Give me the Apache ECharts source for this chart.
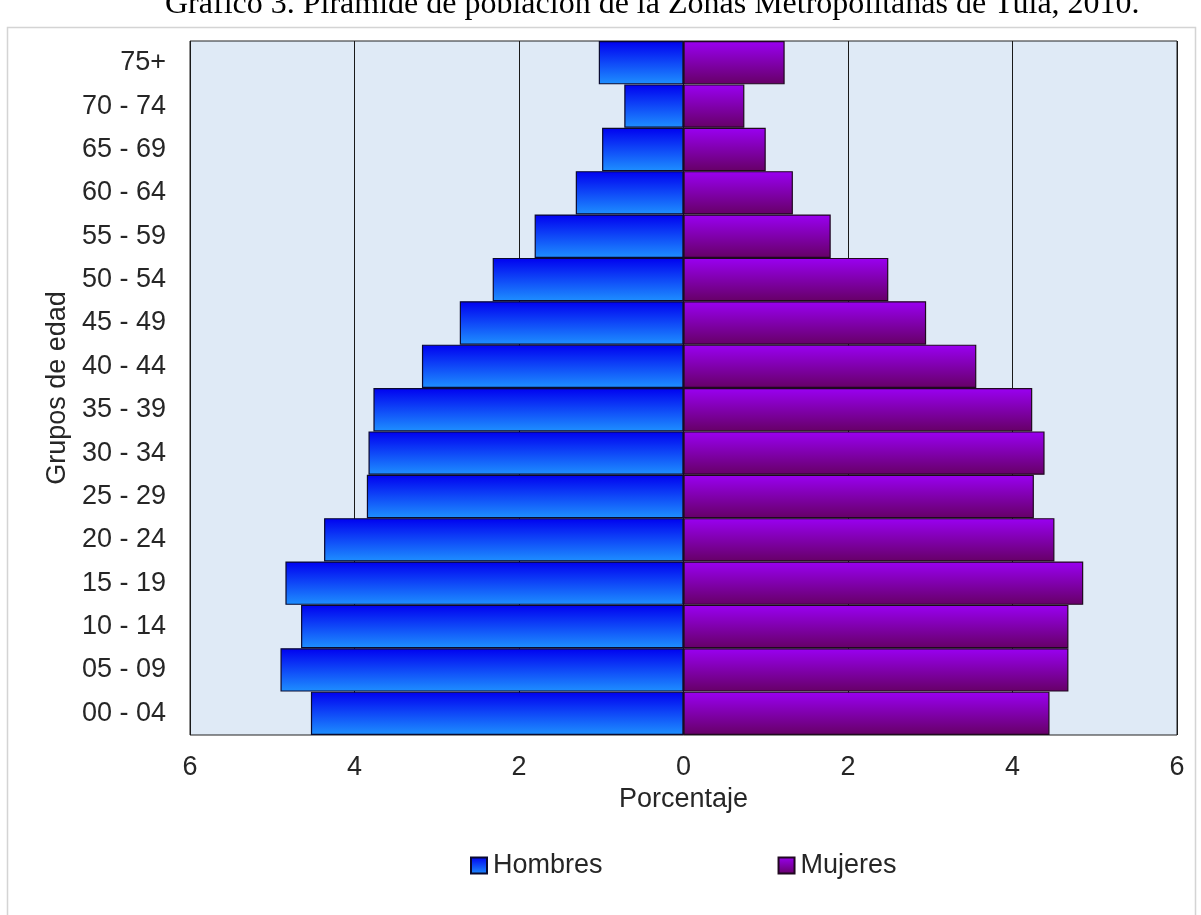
<!DOCTYPE html>
<html>
<head>
<meta charset="utf-8">
<script src="https://cdn.jsdelivr.net/npm/echarts@6/dist/echarts.min.js"></script>
<style>
  html, body { margin: 0; padding: 0; background: #fff; }
  #chart { width: 1201px; height: 915px; }
</style>
</head>
<body>
<div id="chart"></div>
<script>
// grupos de edad, de abajo hacia arriba
const ageGroups = ['00 - 04', '05 - 09', '10 - 14', '15 - 19', '20 - 24', '25 - 29', '30 - 34',
  '35 - 39', '40 - 44', '45 - 49', '50 - 54', '55 - 59', '60 - 64', '65 - 69', '70 - 74', '75+'];
// porcentajes
const hombres = [4.53, 4.90, 4.65, 4.84, 4.37, 3.85, 3.83, 3.77, 3.18, 2.72, 2.32, 1.81, 1.31, 0.99, 0.72, 1.03];
const mujeres = [4.45, 4.68, 4.68, 4.86, 4.51, 4.26, 4.39, 4.24, 3.56, 2.95, 2.49, 1.79, 1.33, 1.00, 0.74, 1.23];
const xTicks = [-6, -4, -2, 0, 2, 4, 6];

const FONT = '"Liberation Sans", Arial, sans-serif';
const TXT = '#262626';

const chart = echarts.init(document.getElementById('chart'));

const blueGrad = new echarts.graphic.LinearGradient(0, 0, 0, 1, [
  { offset: 0, color: '#0000f0' },
  { offset: 1, color: '#1e90ff' }
]);
const purpleGrad = new echarts.graphic.LinearGradient(0, 0, 0, 1, [
  { offset: 0, color: '#9a00f2' },
  { offset: 1, color: '#660066' }
]);

const option = {
  backgroundColor: '#ffffff',
  animation: false,
  title: {
    text: 'Gráfico 3. Pirámide de población de la Zonas Metropolitanas de Tula, 2010.',
    left: 160,
    top: -16,
    textStyle: { fontFamily: '"Liberation Serif", "Times New Roman", serif', fontSize: 32, fontWeight: 'normal', color: '#000' }
  },
  graphic: [{
    type: 'rect',
    shape: { x: 7.5, y: 27.5, width: 1188, height: 900 },
    style: { fill: 'none', stroke: '#d4d4d4', lineWidth: 1.5 },
    z: -10
  }],
  legend: {
    bottom: 31,
    left: 465,
    itemGap: 175,
    itemWidth: 16,
    itemHeight: 16,
    icon: 'rect',
    textStyle: { fontFamily: FONT, fontSize: 27, color: TXT, padding: [0, 0, 0, 1] },
    data: ['Hombres', 'Mujeres']
  },
  grid: {
    left: 190,
    right: 24,
    top: 41,
    bottom: 180,
    show: true,
    backgroundColor: '#dfeaf6',
    borderColor: '#222',
    borderWidth: 1
  },
  xAxis: {
    type: 'value',
    min: -6,
    max: 6,
    interval: 2,
    name: 'Porcentaje',
    nameLocation: 'middle',
    nameGap: 50,
    nameTextStyle: { fontFamily: FONT, fontSize: 27, color: TXT },
    axisLine: { show: false },
    axisTick: { show: false },
    axisLabel: {
      fontFamily: FONT, fontSize: 27, color: TXT, margin: 19,
      formatter: v => xTicks.includes(v) ? String(Math.abs(v)) : ''
    },
    splitLine: { show: true, lineStyle: { color: '#1a1a1a', width: 1 } }
  },
  yAxis: {
    type: 'category',
    data: ageGroups,
    name: 'Grupos de edad',
    nameLocation: 'middle',
    nameGap: 118,
    nameRotate: 90,
    nameTextStyle: { fontFamily: FONT, fontSize: 27, color: TXT },
    axisLine: { show: false, onZero: false },
    axisTick: { show: false },
    axisLabel: { fontFamily: FONT, fontSize: 27, color: TXT, margin: 24 },
    splitLine: { show: false }
  },
  series: [
    {
      name: 'Hombres',
      type: 'bar',
      stack: 'piramide',
      barCategoryGap: '0%',
      data: hombres.map(v => -v),
      itemStyle: { color: blueGrad, borderColor: '#0a0a30', borderWidth: 1.2 }
    },
    {
      name: 'Mujeres',
      type: 'bar',
      stack: 'piramide',
      barCategoryGap: '0%',
      data: mujeres,
      itemStyle: { color: purpleGrad, borderColor: '#200820', borderWidth: 1.2 }
    }
  ]
};

chart.setOption(option);
window.addEventListener('resize', () => chart.resize());
</script>
</body>
</html>
